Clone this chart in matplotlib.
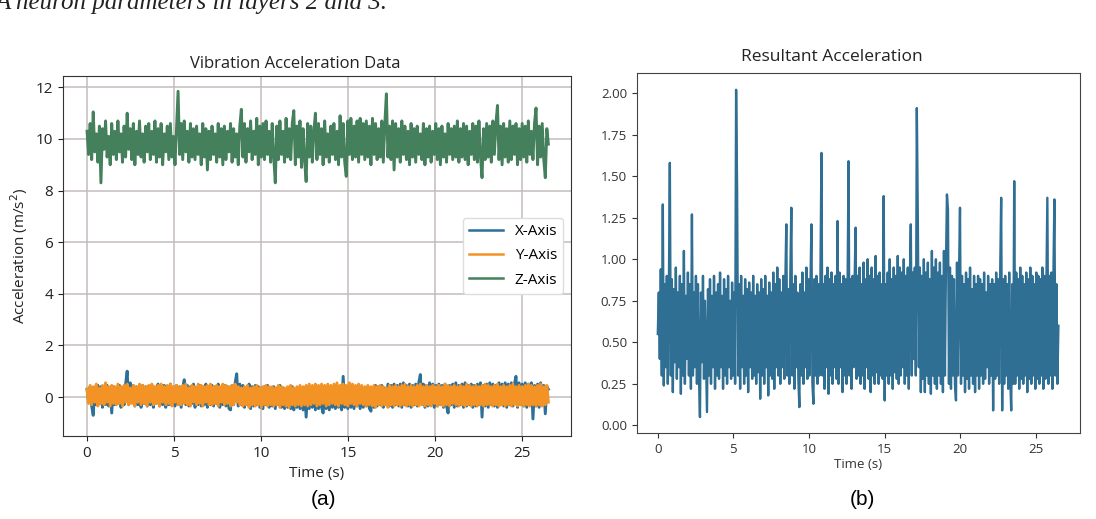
import numpy as np
import matplotlib
matplotlib.use('Agg')
from matplotlib import pyplot as plt

plt.rcParams['font.family'] = ['Open Sans', 'DejaVu Sans']

# acceleration per axis (m/s^2)
x_axis = [0.3, -0.2, 0.4, -0.35, -0.71, 0.35, -0.3, 0.45, -0.25, 0.4, -0.4, 0.3, -0.3, 0.45, -0.35, 0.3, -0.62, 0.4, -0.3, 0.35,
          -0.25, 0.45, -0.4, 0.3, -0.3, 0.5, 1.0, -0.3, 0.55, -0.2, 0.45, -0.35, 0.4, -0.3, 0.35, -0.4, 0.45, -0.25, 0.4, -0.35,
          0.3, -0.3, 0.45, -0.4, 0.35, -0.25, 0.5, -0.35, 0.4, -0.3, 0.45, -0.4, 0.35, -0.3, 0.5, -0.25, 0.4, -0.35, 0.45, -0.3,
          0.4, -0.4, 0.35, 0.67, -0.3, 0.45, -0.35, 0.4, -0.25, 0.5, -0.4, 0.35, -0.3, 0.45, -0.35, 0.4, -0.3, 0.5, -0.4, 0.35,
          -0.3, 0.45, -0.35, 0.4, -0.25, 0.5, -0.4, 0.35, -0.3, 0.45, -0.35, 0.4, -0.45, -0.5, 0.45, -0.3, 0.55, 0.9, -0.35, 0.5,
          -0.3, 0.45, -0.4, 0.35, -0.3, 0.5, -0.45, 0.4, -0.35, 0.45, -0.3, 0.4, -0.4, 0.35, -0.45, 0.4, -0.3, 0.45, -0.4, 0.35,
          -0.35, 0.4, -0.45, 0.35, -0.3, 0.45, -0.4, 0.35, -0.45, 0.3, -0.4, 0.35, -0.45, 0.4, -0.5, 0.3, -0.4, 0.35, -0.45, 0.3,
          -0.5, 0.35, -0.78, 0.3, -0.45, 0.35, -0.4, 0.3, -0.5, 0.35, -0.45, 0.3, -0.4, -0.62, 0.35, -0.45, 0.3, -0.5, 0.35, -0.4,
          0.3, -0.45, 0.35, -0.4, 0.3, -0.5, 0.8, -0.4, 0.35, -0.45, 0.3, -0.4, 0.35, -0.45, 0.4, -0.35, 0.3, -0.45, 0.35, -0.4,
          0.3, -0.35, 0.4, -0.45, -0.55, 0.35, -0.4, 0.45, -0.35, 0.4, -0.3, 0.45, -0.4, 0.35, -0.3, 0.5, -0.35, 0.45, -0.4, 0.5,
          -0.3, 0.45, -0.35, 0.5, -0.4, 0.55, -0.3, 0.45, -0.35, 0.5, -0.4, 0.45, -0.3, 0.5, -0.35, 0.55, 0.87, -0.3, 0.5, -0.4,
          0.45, -0.35, 0.55, -0.3, 0.5, -0.4, 0.45, -0.35, 0.5, -0.3, 0.45, -0.4, 0.5, -0.35, -0.62, 0.45, -0.3, 0.5, -0.4, 0.55,
          -0.35, 0.45, -0.3, 0.5, -0.4, 0.55, -0.35, 0.45, -0.3, 0.5, -0.4, 0.45, -0.35, 0.5, -0.3, 0.55, -0.78, 0.45, -0.35, 0.5,
          -0.4, 0.55, -0.3, 0.5, -0.35, 0.45, -0.4, 0.55, -0.3, 0.5, -0.35, 0.55, -0.4, 0.5, -0.3, 0.55, -0.35, 0.5, 0.8, -0.4,
          0.55, -0.3, 0.5, -0.35, 0.55, -0.4, 0.5, -0.3, 0.55, -0.85, 0.45, -0.35, 0.5, -0.4, 0.55, -0.3, 0.45, -0.65, 0.4, 0.3]

y_axis = [0.3, -0.25, 0.45, -0.3, 0.4, -0.2, 0.5, -0.35, 0.35, -0.25, 0.45, -0.3, 0.55, -0.2, 0.4, -0.35, 0.45, -0.25, 0.4, -0.3,
          0.5, -0.25, 0.4, -0.35, 0.45, -0.2, 0.5, -0.3, 0.35, -0.25, 0.45, -0.35, 0.4, -0.2, 0.5, -0.3, 0.45, -0.25, 0.4, -0.35,
          0.45, -0.2, 0.5, -0.3, 0.4, -0.25, 0.45, -0.35, 0.5, -0.2, 0.4, -0.3, 0.45, -0.25, 0.5, -0.35, 0.4, -0.2, 0.45, -0.3,
          0.4, -0.3, 0.45, -0.25, 0.5, -0.3, 0.35, -0.35, 0.45, -0.2, 0.4, -0.3, 0.5, -0.25, 0.45, -0.35, 0.4, -0.2, 0.45, -0.3,
          0.5, -0.3, 0.4, -0.25, 0.45, -0.35, 0.4, -0.2, 0.5, -0.3, 0.45, -0.25, 0.4, -0.35, 0.45, -0.3, 0.5, -0.2, 0.4, -0.3,
          0.35, -0.35, 0.4, -0.3, 0.45, -0.4, 0.35, -0.3, 0.4, -0.35, 0.45, -0.3, 0.35, -0.4, 0.4, -0.3, 0.45, -0.35, 0.4, -0.3,
          0.4, -0.35, 0.35, -0.3, 0.45, -0.4, 0.4, -0.3, 0.35, -0.35, 0.4, -0.4, 0.45, -0.3, 0.35, -0.35, 0.4, -0.3, 0.45, -0.35,
          0.4, -0.3, 0.45, -0.35, 0.5, -0.3, 0.45, -0.25, 0.5, -0.35, 0.45, -0.3, 0.5, -0.25, 0.45, -0.35, 0.5, -0.3, 0.45, -0.25,
          0.5, -0.3, 0.55, -0.35, 0.45, -0.25, 0.5, -0.3, 0.45, -0.35, 0.55, -0.25, 0.5, -0.3, 0.45, -0.35, 0.5, -0.25, 0.45, -0.3,
          0.4, -0.35, 0.45, -0.3, 0.4, -0.35, 0.45, -0.4, 0.4, -0.3, 0.45, -0.35, 0.4, -0.3, 0.35, -0.4, 0.45, -0.3, 0.4, -0.35,
          0.45, -0.3, 0.4, -0.35, 0.45, -0.3, 0.5, -0.35, 0.4, -0.3, 0.45, -0.35, 0.4, -0.3, 0.45, -0.35, 0.5, -0.3, 0.4, -0.35,
          0.45, -0.3, 0.4, -0.35, 0.45, -0.25, 0.4, -0.35, 0.45, -0.3, 0.4, -0.35, 0.5, -0.3, 0.45, -0.35, 0.4, -0.25, 0.45, -0.3,
          0.4, -0.35, 0.45, -0.3, 0.4, -0.35, 0.5, -0.3, 0.45, -0.35, 0.4, -0.3, 0.45, -0.35, 0.4, -0.3, 0.45, -0.35, 0.5, -0.3,
          0.45, -0.3, 0.4, -0.35, 0.45, -0.3, 0.5, -0.35, 0.4, -0.3, 0.45, -0.35, 0.4, -0.3, 0.45, -0.35, 0.5, -0.3, 0.4, -0.35,
          0.45, -0.3, 0.4, -0.35, 0.45, -0.3, 0.5, -0.35, 0.45, -0.3, 0.4, -0.35, 0.45, -0.3, 0.5, -0.35, 0.4, -0.3, 0.45, -0.2]

z_axis = [10.3, 9.4, 10.6, 9.2, 11.05, 9.5, 10.2, 9.1, 10.5, 8.3, 10.4, 9.6, 10.7, 9.3, 10.1, 9.0, 10.6, 9.4, 10.3, 9.2,
          10.7, 9.5, 10.2, 9.1, 10.5, 9.3, 11.0, 9.6, 10.4, 9.2, 10.6, 9.0, 10.3, 9.4, 10.7, 9.3, 10.2, 9.1, 10.5, 9.5,
          10.6, 9.2, 10.3, 9.4, 10.7, 9.1, 10.4, 9.3, 10.6, 9.0, 10.2, 9.5, 10.5, 9.2, 10.6, 9.3, 10.1, 9.0, 10.4, 11.85,
          9.4, 10.6, 9.2, 10.7, 9.5, 10.3, 9.1, 10.6, 9.3, 10.4, 9.2, 10.5, 9.4, 10.2, 9.0, 10.6, 9.3, 10.4, 8.8, 10.3,
          9.2, 10.5, 9.4, 10.2, 9.1, 10.6, 9.3, 10.4, 9.0, 10.5, 9.2, 10.3, 9.5, 10.6, 9.1, 10.4, 9.3, 10.2, 9.0, 10.5,
          11.15, 9.3, 10.6, 9.1, 10.4, 9.5, 10.7, 9.2, 10.3, 9.4, 10.8, 9.0, 10.5, 9.3, 10.6, 9.2, 10.7, 9.4, 10.3, 9.1,
          10.6, 9.3, 8.3, 10.5, 9.2, 10.7, 9.4, 10.3, 9.1, 10.8, 9.3, 10.4, 9.2, 10.6, 11.1, 9.0, 10.5, 9.3, 10.7, 8.9,
          10.4, 9.2, 8.35, 10.6, 9.3, 10.5, 9.1, 10.3, 11.0, 9.2, 10.6, 9.4, 10.4, 9.0, 10.7, 9.3, 10.2, 9.1, 10.5, 9.4,
          10.6, 9.2, 10.3, 9.0, 10.9, 9.3, 10.6, 9.1, 8.55, 10.7, 9.4, 10.8, 9.2, 10.5, 9.3, 10.7, 9.1, 10.8, 9.4, 10.6,
          9.2, 10.7, 9.3, 10.5, 9.0, 10.8, 9.4, 10.6, 9.2, 10.4, 9.3, 10.7, 9.1, 10.6, 11.75, 9.3, 10.5, 9.2, 10.7, 8.8,
          10.6, 9.3, 10.4, 9.1, 10.7, 9.4, 10.5, 9.2, 10.3, 9.0, 10.6, 9.3, 10.4, 9.1, 10.5, 9.4, 10.2, 9.2, 10.6, 9.0,
          10.4, 9.3, 10.5, 9.1, 10.3, 9.4, 10.6, 9.2, 10.4, 9.0, 10.5, 9.3, 10.2, 9.1, 10.6, 9.4, 10.4, 9.2, 10.5, 9.3,
          10.7, 9.1, 10.4, 9.3, 10.6, 9.2, 10.5, 9.0, 10.3, 9.4, 10.6, 9.2, 10.5, 9.1, 10.7, 9.3, 8.5, 10.4, 9.2, 10.6,
          9.3, 10.5, 9.1, 10.7, 9.4, 10.6, 11.3, 9.2, 10.5, 9.0, 10.6, 9.3, 10.4, 9.1, 10.7, 9.2, 10.5, 9.4, 10.6, 9.0,
          10.4, 9.2, 10.6, 9.3, 10.5, 9.1, 10.7, 9.4, 10.3, 9.2, 10.6, 11.2, 9.0, 10.5, 9.3, 10.6, 9.2, 8.5, 10.4, 9.8]

# resultant acceleration
resultant = [0.55, 0.8, 0.4, 0.94, 0.3, 1.33, 0.24, 0.85, 0.35, 0.9, 0.25, 0.78, 1.58, 0.3, 0.88, 0.2, 0.82, 0.38, 0.95, 0.28,
             0.8, 0.35, 0.9, 0.19, 0.85, 0.3, 1.05, 0.25, 0.78, 0.4, 0.92, 0.3, 0.85, 0.22, 1.27, 0.3, 0.8, 0.35, 0.9, 0.25,
             0.85, 0.3, 0.05, 0.8, 0.38, 0.9, 0.28, 0.75, 0.4, 0.08, 0.82, 0.3, 0.88, 0.25, 0.78, 0.35, 0.9, 0.22, 0.8, 0.3,
             0.85, 0.28, 0.92, 0.35, 0.78, 0.22, 0.88, 0.3, 0.82, 0.25, 0.9, 0.35, 0.75, 0.28, 0.86, 0.3, 0.8, 0.25, 2.02, 1.41,
             0.3, 0.85, 0.22, 0.9, 0.35, 0.78, 0.25, 0.88, 0.3, 0.82, 0.2, 0.86, 0.35, 0.8, 0.28, 0.9, 0.3, 0.78, 0.25, 0.85,
             0.32, 0.8, 0.16, 0.88, 0.3, 0.82, 0.25, 0.9, 0.35, 0.78, 0.18, 0.86, 0.3, 0.8, 0.28, 0.92, 0.22, 0.85, 0.35, 0.95,
             0.3, 0.88, 0.25, 0.8, 0.35, 0.9, 0.28, 0.85, 1.21, 0.3, 0.82, 0.25, 0.9, 1.31, 0.3, 0.85, 0.22, 0.9, 0.35, 0.8,
             0.28, 0.11, 0.85, 0.3, 0.92, 0.25, 0.8, 0.35, 0.95, 0.28, 0.88, 0.3, 0.82, 1.21, 0.25, 0.13, 0.88, 0.3, 0.9, 0.25,
             0.85, 0.3, 0.9, 1.64, 0.3, 0.85, 0.22, 0.9, 0.35, 0.95, 0.19, 0.88, 0.3, 0.92, 0.25, 0.85, 0.35, 0.9, 0.28, 1.23,
             0.25, 0.92, 0.35, 0.85, 0.2, 0.9, 0.3, 0.88, 0.25, 0.82, 1.59, 0.3, 0.88, 0.22, 0.9, 0.35, 0.85, 1.19, 0.28, 0.9,
             0.3, 0.95, 0.25, 0.85, 0.3, 0.98, 0.22, 0.88, 0.35, 1.0, 0.28, 0.9, 0.2, 0.95, 0.3, 0.88, 0.25, 1.02, 0.32, 0.9,
             0.25, 0.92, 0.3, 0.85, 0.28, 1.38, 0.15, 0.85, 0.3, 0.92, 0.25, 1.0, 0.3, 0.88, 0.22, 0.95, 0.32, 0.9, 0.28, 1.02,
             0.25, 0.95, 0.3, 0.92, 0.35, 1.0, 0.25, 0.9, 0.3, 0.95, 0.22, 0.88, 1.21, 0.3, 0.92, 0.4, 0.95, 0.3, 1.91, 1.23,
             0.35, 0.95, 0.2, 0.9, 0.28, 1.0, 0.2, 0.92, 0.3, 0.98, 0.25, 0.88, 0.19, 1.05, 0.3, 0.95, 0.25, 1.0, 0.22, 0.92,
             0.3, 0.98, 0.25, 0.9, 0.2, 1.05, 0.3, 0.95, 1.39, 1.3, 0.25, 0.95, 0.22, 0.9, 0.3, 0.88, 0.25, 0.15, 0.98, 0.3,
             0.9, 1.31, 0.25, 0.9, 0.3, 0.85, 0.2, 0.92, 0.28, 0.88, 0.22, 0.95, 0.3, 0.82, 0.25, 0.9, 0.2, 0.85, 0.3, 0.9,
             0.22, 0.88, 0.3, 0.85, 0.25, 0.92, 0.28, 0.8, 0.35, 0.9, 0.25, 0.85, 0.3, 0.88, 0.09, 0.85, 0.28, 0.92, 0.3, 0.88,
             0.25, 0.9, 1.37, 0.09, 0.88, 0.25, 0.9, 0.3, 0.85, 0.22, 0.92, 0.3, 0.09, 0.85, 0.25, 1.47, 0.25, 0.92, 0.3, 0.88,
             0.22, 0.95, 0.28, 0.9, 0.25, 0.85, 0.3, 0.92, 0.2, 0.88, 0.28, 0.95, 0.25, 0.9, 0.3, 0.85, 0.22, 0.92, 0.28, 0.9,
             0.25, 0.88, 0.3, 0.95, 0.22, 0.9, 0.28, 0.85, 1.37, 0.25, 0.9, 0.3, 0.92, 0.22, 0.88, 1.36, 0.3, 0.85, 0.25, 0.6]

duration = 26.5
t_xyz = np.linspace(0, duration, len(z_axis))
t_res = np.linspace(0, duration, len(resultant))

fig = plt.figure(figsize=(10.96, 5.19), dpi=100)

# (a) three axes
ax1 = fig.add_axes([0.0575, 0.160, 0.4635, 0.6935])
ax1.plot(t_xyz, x_axis, color='#2c6f98', lw=2.1, label='X-Axis')
ax1.plot(t_xyz, y_axis, color='#f39325', lw=2.1, label='Y-Axis')
ax1.plot(t_xyz, z_axis, color='#45805d', lw=2.1, label='Z-Axis')
ax1.set_xlim(-1.38, 27.8)
ax1.set_ylim(-1.51, 12.44)
ax1.set_yticks([0, 2, 4, 6, 8, 10, 12])
ax1.set_xticks([0, 5, 10, 15, 20, 25])
ax1.grid(True, color='#c3bcbc', lw=1.1)
ax1.set_axisbelow(True)
ax1.set_title('Vibration Acceleration Data', fontsize=12, color='#222222', x=0.457)
ax1.set_xlabel('Time (s)', fontsize=11, color='#222222')
ax1.set_ylabel('Acceleration (m/s$^2$)', fontsize=11, color='#222222')
ax1.tick_params(labelsize=11, colors='#222222')
leg = ax1.legend(loc='center right', fontsize=11, handlelength=2.2, labelspacing=0.6,
                 framealpha=1, edgecolor='#dddddd')
for line in leg.get_lines():
    line.set_linewidth(1.8)
for s in ax1.spines.values():
    s.set_color('#333333')

# (b) resultant
ax2 = fig.add_axes([0.581, 0.166, 0.404, 0.693])
ax2.plot(t_res, resultant, color='#306f94', lw=1.7)
ax2.set_xlim(-1.39, 27.9)
ax2.set_ylim(-0.045, 2.12)
ax2.set_yticks([0, 0.25, 0.5, 0.75, 1.0, 1.25, 1.5, 1.75, 2.0])
ax2.set_yticklabels(['0.00', '0.25', '0.50', '0.75', '1.00', '1.25', '1.50', '1.75', '2.00'])
ax2.set_xticks([0, 5, 10, 15, 20, 25])
ax2.set_title('Resultant Acceleration', fontsize=12.5, color='#222222', x=0.44, pad=9)
ax2.set_xlabel('Time (s)', fontsize=9.5, color='#333333', labelpad=2)
ax2.tick_params(labelsize=9.5, colors='#333333')
for s in ax2.spines.values():
    s.set_color('#444444')

fig.text(0.295, 0.027, '(a)', fontsize=15, family='Liberation Sans', ha='center')
fig.text(0.787, 0.027, '(b)', fontsize=15, family='Liberation Sans', ha='center')

# cropped caption line from the page above
fig.text(-0.004, 0.983, 'A neuron parameters in layers 2 and 3.', fontsize=18,
         family='Liberation Serif', style='italic', va='baseline', color='#222222')

plt.savefig('out.png', dpi=100)
